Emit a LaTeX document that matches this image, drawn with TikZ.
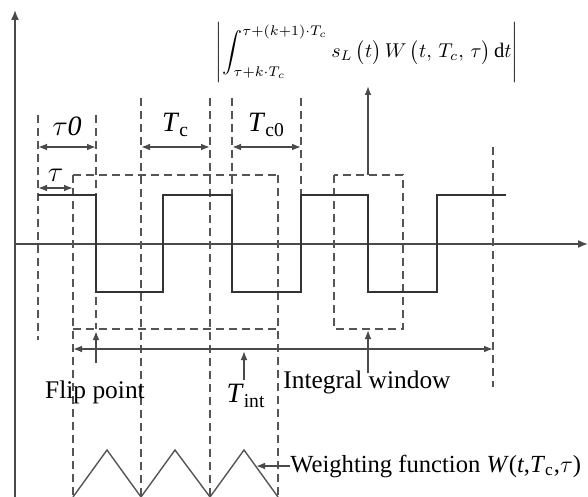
\documentclass[tikz,border=0pt]{standalone}
\usepackage{fontspec}
\setmainfont{Liberation Serif}
\usepackage{amsmath}
\usepackage{xcolor}
\definecolor{cLine}{HTML}{333333}
\definecolor{cDash}{HTML}{555555}
\definecolor{cAxis}{HTML}{4A4A4A}
\usetikzlibrary{arrows.meta,positioning}
\tikzset{
  line-wave/.style={draw=cLine,line width=0.7pt},
  line-dash/.style={draw=cDash,line width=0.7pt,dash pattern=on 4pt off 2.5pt},
  line-axis/.style={draw=cAxis,line width=0.8pt,-{Latex[length=5pt,width=4pt]}},
  arrow/.style={-{Latex[length=4.5pt,width=3.4pt]},line width=0.8pt,draw=cAxis},
  arrow-dim/.style={{Latex[length=4.5pt,width=3.4pt]}-{Latex[length=4.5pt,width=3.4pt]},
    line width=0.8pt,draw=cAxis},
  label-txt/.style={font=\fontsize{12.7}{15}\selectfont,inner sep=0pt},
  label-big/.style={label-txt,font=\fontsize{14}{16}\selectfont},
}
\newcommand{\Tsub}[1]{\textit{T}\textsubscript{#1}}

\begin{document}
\begin{tikzpicture}[x=0.5pt,y=-0.5pt]
  \useasboundingbox (0,0) rectangle (588,497);
  % axes
  \coordinate (o) at (15,244);
  \coordinate (y-top) at (15,10);
  \coordinate (y-bot) at (15,497);
  \coordinate (x-end) at (588,244);
  \draw[line-axis] (y-bot) -- (y-top);
  \draw[line-axis] (o) -- (x-end);
  % dashed guides
  \foreach \x/\ya/\yb in {38/115/340,73/175/497,96/115/329,141/98/497,
      210/98/497,232/98/195,278/175/497,301/98/195,493/147/387} {
    \draw[line-dash] (\x,\ya) -- (\x,\yb);
  }
  \draw[line-dash] (73,175) -- (278,175);
  \draw[line-dash] (73,329) -- (278,329);
  \draw[line-dash] (334,175) rectangle (403,329);
  % spreading code s_L(t)
  \draw[line-wave] (38,195) -| (96,292) -| (163,195) -| (232,292) -| (301,195)
    -| (368,292) -| (437,195) -- (506,195);
  % weighting function
  \draw[line-wave,draw=cDash] (73,497) -- (107,450) -- (141,497) -- (175,450)
    -- (210,497) -- (244,450) -- (278,497);
  % dimensions
  \coordinate (t0-l) at (38,147);  \coordinate (t0-r) at (96,147);
  \coordinate (tau-l) at (38,188); \coordinate (tau-r) at (73,188);
  \coordinate (tc-l) at (141,147); \coordinate (tc-r) at (210,147);
  \coordinate (tc0-l) at (232,147); \coordinate (tc0-r) at (301,147);
  \draw[arrow-dim] (t0-l) -- node[label-big,above=5pt]{$\tau$\textit{0}} (t0-r);
  \draw[arrow-dim] (tau-l) -- node[label-big,above=3pt]{$\tau$} (tau-r);
  \draw[arrow-dim] (tc-l) -- node[label-big,above=5pt]{\Tsub{c}} (tc-r);
  \draw[arrow-dim] (tc0-l) -- node[label-big,above=5pt]{\Tsub{c0}} (tc0-r);
  % integration window T_int
  \coordinate (int-l) at (73,349); \coordinate (int-r) at (493,349);
  \draw[arrow-dim] (int-l) -- (int-r);
  % labels and pointers
  \node[label-txt] (flip) at (95,392) {Flip point};
  \node[label-big] (tint) at (246,396) {\Tsub{int}};
  \node[label-txt,anchor=west] (win) at (283,382) {Integral window};
  \node[label-txt,anchor=west,font=\fontsize{12.3}{15}\selectfont] (wfun) at (290,466)
    {Weighting function \textit{W}(\textit{t},\Tsub{c},$\tau$)};
  \node[font=\fontsize{10.3}{13}\selectfont,inner sep=0pt] (corr) at (367,53)
    {$\left|\displaystyle\int_{\tau+k\cdot T_c}^{\tau+\left(k+1\right)\cdot T_c}
      s_L\,\bigl(t\bigr)\,W\,\bigl(t,\,T_c,\,\tau\bigr)\,\mathrm{d}t\right|$};
  \coordinate (flip-a) at (96,363);  \coordinate (flip-b) at (96,331);
  \coordinate (tint-a) at (244,380); \coordinate (tint-b) at (244,351);
  \coordinate (win-a) at (368,373);  \coordinate (win-b) at (368,330);
  \coordinate (corr-a) at (368,175); \coordinate (corr-b) at (368,86);
  \coordinate (wfun-b) at (256,466);
  \draw[arrow] (flip-a) -- (flip-b);
  \draw[arrow] (tint-a) -- (tint-b);
  \draw[arrow] (win-a) -- (win-b);
  \draw[arrow] (corr-a) -- (corr-b);
  \draw[arrow] (wfun.west) -- (wfun-b);
\end{tikzpicture}
\end{document}
